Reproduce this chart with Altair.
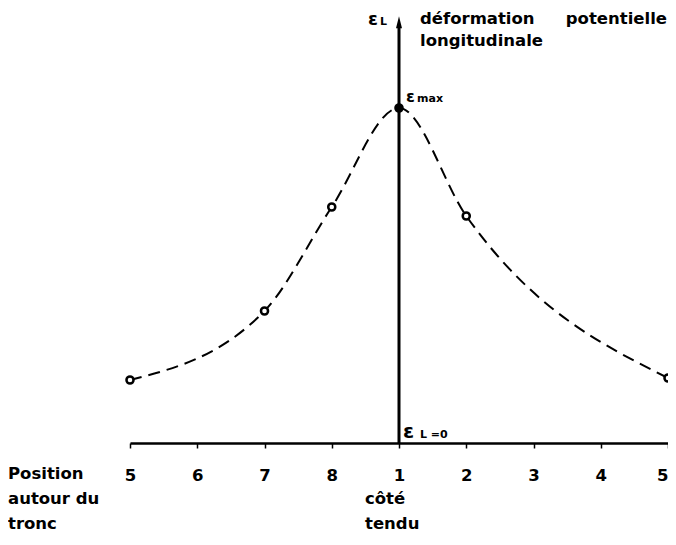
import altair as alt
import pandas as pd

# ---- data ----
positions = [0, 1, 2, 3, 4, 5, 6, 7, 8]
tick_labels = ["5", "6", "7", "8", "1", "2", "3", "4", "5"]
meas_idx = [0, 2, 3, 4, 5, 8]
meas_val = [63, 132, 236, 335, 227, 65]
meas_kind = ["open", "open", "open", "max", "open", "open"]
axis_top = 425

df = pd.DataFrame({"i": meas_idx, "v": meas_val, "kind": meas_kind})
axis_df = pd.DataFrame({"i": [4], "y0": [0], "y1": [axis_top - 8], "tip": [axis_top - 7]})

FONT = "DejaVu Sans"
FS = 16.5
W, H = 538, 425

x_scale = alt.Scale(domain=[0, 8], nice=False, zero=False)
y_scale = alt.Scale(domain=[0, axis_top], nice=False)
label_expr = "[" + ",".join(f"'{t}'" for t in tick_labels) + "][datum.value]"

x_enc = alt.X(
    "i:Q",
    scale=x_scale,
    title=None,
    axis=alt.Axis(
        values=positions,
        labelExpr=label_expr,
        grid=False,
        domainColor="black",
        domainWidth=2.5,
        tickColor="black",
        tickSize=5,
        tickWidth=1.5,
        labelFont=FONT,
        labelFontWeight="bold",
        labelFontSize=FS,
        labelColor="black",
        labelBaseline="alphabetic",
        labelAlign={"condition": {"test": "datum.value == 8", "value": "right"}, "value": "center"},
        labelPadding=32,
        labelFlush=False,
        labelOverlap=False,
    ),
)
y_enc = alt.Y("v:Q", scale=y_scale, axis=None)

base = alt.Chart(df)

curve = base.mark_line(
    interpolate="monotone", strokeDash=[12, 7], strokeWidth=2, color="black"
).encode(x=x_enc, y=y_enc)

pts = base.mark_point(
    shape="circle", filled=True, size=50, strokeWidth=2.5, stroke="black", opacity=1
).encode(
    x="i:Q",
    y="v:Q",
    fill=alt.Fill(
        "kind:N",
        scale=alt.Scale(domain=["open", "max"], range=["white", "black"]),
        legend=None,
    ),
)

vaxis = alt.Chart(axis_df).mark_rule(strokeWidth=3, color="black").encode(
    x="i:Q", y="y0:Q", y2="y1:Q"
)
arrow = alt.Chart(axis_df).mark_point(
    shape="M0,-1.6L0.55,0.6L-0.55,0.6Z", filled=True, size=120, color="black", opacity=1
).encode(x="i:Q", y="tip:Q")


def txt(text, x, y, size=FS, dx=0, dy=0, align="left", lh=None):
    kw = dict(
        text=text, font=FONT, fontWeight="bold", fontSize=size, color="black",
        align=align, baseline="alphabetic", dx=dx, dy=dy,
    )
    if lh is not None:
        kw["lineBreak"] = "\n"
        kw["lineHeight"] = lh
    return alt.Chart(axis_df).mark_text(**kw).encode(x=x, y=y)


top_y = alt.datum(axis_top)
labels = [
    txt("ε", alt.datum(4), top_y, size=18, dx=-31, dy=7),
    txt("L", alt.datum(4), top_y, size=11, dx=-19, dy=7),
    txt("déformation", alt.datum(4), top_y, dx=21, dy=6),
    txt("potentielle", alt.datum(4), top_y, dx=268, dy=6, align="right"),
    txt("longitudinale", alt.datum(4), top_y, dx=21, dy=28),
    txt("ε", alt.datum(4), alt.datum(335), size=16, dx=7, dy=-6),
    txt("max", alt.datum(4), alt.datum(335), size=11, dx=18, dy=-6),
    txt("ε", alt.datum(4), alt.datum(0), size=20, dx=4, dy=-5),
    txt("L =0", alt.datum(4), alt.datum(0), size=11, dx=21, dy=-5),
    txt("Position\nautour du\ntronc", alt.value(-122), alt.value(461), lh=25),
    txt("côté\ntendu", alt.datum(4), alt.value(486), dx=-34, lh=25),
]

chart = (
    alt.layer(curve, vaxis, arrow, pts, *labels)
    .properties(
        width=W,
        height=H,
        autosize=alt.AutoSizeParams(type="none"),
        padding={"left": 122, "top": 10, "right": 0, "bottom": 90},
    )
    .configure_view(stroke=None)
)

chart.save("out.html", embed_options={"renderer": "svg", "actions": False})
